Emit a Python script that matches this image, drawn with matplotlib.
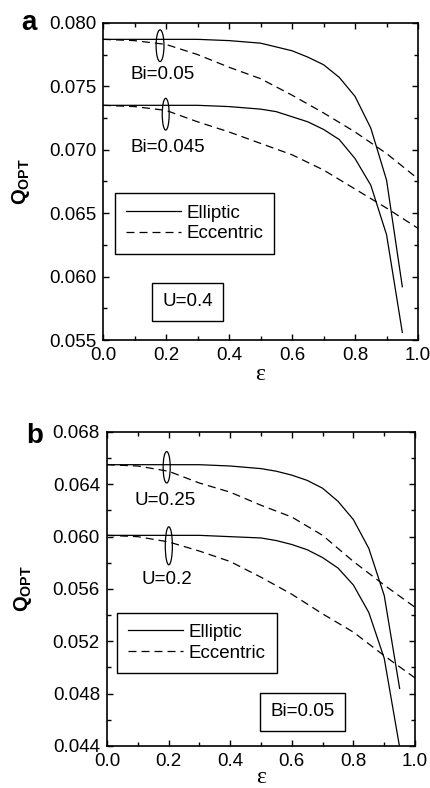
import matplotlib
matplotlib.use('Agg')
import matplotlib.pyplot as plt
from matplotlib.patches import Ellipse
import numpy as np

plt.rcParams['font.family'] = ['Liberation Sans', 'DejaVu Sans']
plt.rcParams['mathtext.fontset'] = 'custom'
plt.rcParams['mathtext.rm'] = 'Liberation Sans'
plt.rcParams['mathtext.bf'] = 'Liberation Sans:bold'

# %% data
eps_ell = [0.0, 0.1, 0.2, 0.3, 0.4, 0.5, 0.55, 0.6, 0.65, 0.7, 0.75, 0.8, 0.85, 0.9, 0.95]
eps_ecc = [0.0, 0.1, 0.2, 0.3, 0.4, 0.5, 0.6, 0.7, 0.8, 0.9, 1.0]

# panel a, U=0.4
a_ell_bi05 = [0.0787, 0.0787, 0.0787, 0.0787, 0.0786, 0.0784, 0.0781, 0.0778, 0.0773, 0.0767, 0.0757, 0.0742, 0.0717, 0.0676, 0.0592]
a_ell_bi045 = [0.0735, 0.0735, 0.0735, 0.0735, 0.0734, 0.0732, 0.0730, 0.0726, 0.0722, 0.0716, 0.0708, 0.0693, 0.0672, 0.0633, 0.0556]
a_ecc_bi05 = [0.0787, 0.0786, 0.0783, 0.0775, 0.0765, 0.0756, 0.0743, 0.0729, 0.0714, 0.0697, 0.0677]
a_ecc_bi045 = [0.0735, 0.0734, 0.0731, 0.0722, 0.0714, 0.0705, 0.0696, 0.0684, 0.0669, 0.0654, 0.0638]

# panel b, Bi=0.05
b_ell_u025 = [0.0655, 0.0655, 0.0655, 0.0655, 0.0654, 0.0652, 0.0650, 0.0647, 0.0643, 0.0637, 0.0627, 0.0613, 0.0591, 0.0555, 0.0484]
b_ell_u02 = [0.0601, 0.0601, 0.0601, 0.0601, 0.0600, 0.0599, 0.0597, 0.0594, 0.0590, 0.0584, 0.0576, 0.0563, 0.0542, 0.0507, 0.0439]
b_ecc_u025 = [0.0655, 0.0654, 0.0650, 0.0641, 0.0634, 0.0624, 0.0615, 0.0601, 0.0581, 0.0563, 0.0546]
b_ecc_u02 = [0.0601, 0.0600, 0.0596, 0.0589, 0.0581, 0.0569, 0.0556, 0.0541, 0.0527, 0.0509, 0.0492]

fs = 13.5
dash = (0, (6.4, 4))

fig = plt.figure(figsize=(4.31, 7.88), dpi=100)
axa = fig.add_axes([0.239, 0.5685, 0.731, 0.4025])
axb = fig.add_axes([0.248, 0.0533, 0.715, 0.3985])


def style(ax, ylim, ymaj, ymin):
    ax.set_xlim(0, 1.0)
    ax.set_ylim(*ylim)
    ax.set_xticks(np.arange(0, 1.01, 0.2))
    ax.set_xticks(np.arange(0, 1.01, 0.1), minor=True)
    ax.set_yticks(np.arange(ylim[0], ylim[1] + 1e-9, ymaj))
    ax.set_yticks(np.arange(ylim[0], ylim[1] + 1e-9, ymin), minor=True)
    ax.tick_params(which='both', direction='in', top=True, right=True, labelsize=fs, width=1)
    ax.tick_params(which='major', length=4.5)
    ax.tick_params(which='minor', length=2.8)
    ax.tick_params(axis='x', pad=5)
    ax.tick_params(axis='y', pad=5)
    for s in ax.spines.values():
        s.set_linewidth(1.2)
    ax.yaxis.set_major_formatter(plt.FormatStrFormatter('%.3f'))
    ax.xaxis.set_major_formatter(plt.FormatStrFormatter('%.1f'))
    ax.set_xlabel('ε', family='Liberation Serif', fontsize=17)
    ax.set_ylabel(r'$\mathbf{Q}_{\mathbf{OPT}}$', fontsize=fs + 1)


def legend(ax, anchor):
    leg = ax.legend(loc='upper left', bbox_to_anchor=anchor, borderaxespad=0,
                    fontsize=fs, fancybox=False, edgecolor='k', framealpha=1,
                    handlelength=2.9, handletextpad=0.3, labelspacing=0.2, borderpad=0.6)
    leg.get_frame().set_linewidth(1)


# %% panel a
axa.plot(eps_ell, a_ell_bi05, 'k-', lw=0.9, label='Elliptic')
axa.plot(eps_ell, a_ell_bi045, 'k-', lw=0.9)
axa.plot(eps_ecc, a_ecc_bi05, 'k', ls=dash, lw=0.9, label='Eccentric')
axa.plot(eps_ecc, a_ecc_bi045, 'k', ls=dash, lw=0.9)
style(axa, (0.055, 0.080), 0.005, 0.0025)
axa.xaxis.set_label_coords(0.5, -0.075)
axa.yaxis.set_label_coords(-0.225, 0.5)
axa.add_patch(Ellipse((0.181, 0.0782), 0.025, 0.0025, fc='none', ec='k', lw=0.9))
axa.add_patch(Ellipse((0.199, 0.0728), 0.022, 0.0025, fc='none', ec='k', lw=0.9))
axa.text(0.086, 0.0759, 'Bi=0.05', fontsize=fs, va='center')
axa.text(0.086, 0.0702, 'Bi=0.045', fontsize=fs, va='center')
axa.text(0.268, 0.0580, 'U=0.4', fontsize=fs, ha='center', va='center',
         bbox=dict(boxstyle='square,pad=0.55', fc='white', ec='k', lw=1))
legend(axa, (0.038, 0.4628))
fig.text(0.05, 0.962, 'a', fontsize=20, fontweight='bold')

# %% panel b
axb.plot(eps_ell, b_ell_u025, 'k-', lw=0.9, label='Elliptic')
axb.plot(eps_ell, b_ell_u02, 'k-', lw=0.9)
axb.plot(eps_ecc, b_ecc_u025, 'k', ls=dash, lw=0.9, label='Eccentric')
axb.plot(eps_ecc, b_ecc_u02, 'k', ls=dash, lw=0.9)
style(axb, (0.044, 0.068), 0.004, 0.002)
axb.xaxis.set_label_coords(0.5, -0.066)
axb.yaxis.set_label_coords(-0.235, 0.5)
axb.add_patch(Ellipse((0.194, 0.0653), 0.023, 0.0024, fc='none', ec='k', lw=0.9))
axb.add_patch(Ellipse((0.201, 0.0593), 0.023, 0.0029, fc='none', ec='k', lw=0.9))
axb.text(0.09, 0.0628, 'U=0.25', fontsize=fs, va='center')
axb.text(0.112, 0.0567, 'U=0.2', fontsize=fs, va='center')
axb.text(0.634, 0.0466, 'Bi=0.05', fontsize=fs, ha='center', va='center',
         bbox=dict(boxstyle='square,pad=0.55', fc='white', ec='k', lw=1))
legend(axb, (0.033, 0.425))
fig.text(0.062, 0.438, 'b', fontsize=20, fontweight='bold')

plt.savefig('out.png', dpi=100)
